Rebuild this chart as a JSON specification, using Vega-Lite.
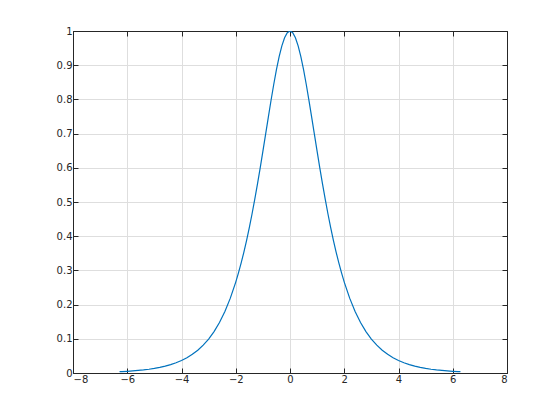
{
  "$schema": "https://vega.github.io/schema/vega-lite/v6.json",
  "width": 434,
  "height": 342,
  "autosize": {"type": "none"},
  "padding": {"left": 73, "top": 31, "right": 53, "bottom": 47},
  "background": "white",
  "config": {
    "view": {"stroke": "#262626", "strokeWidth": 1},
    "axis": {
      "labelFont": "DejaVu Sans",
      "labelFontSize": 10,
      "labelColor": "#262626",
      "domainColor": "#262626",
      "tickColor": "#262626",
      "tickSize": -5,
      "gridColor": "#dedede",
      "gridWidth": 1,
      "title": null
    }
  },
  "data": {"values": [
    {"x": -6.2832, "y": 0.00373}, {"x": -6.2, "y": 0.00406}, {"x": -6.0, "y": 0.00496}, {"x": -5.8, "y": 0.00606},
    {"x": -5.6, "y": 0.0074}, {"x": -5.4, "y": 0.00903}, {"x": -5.2, "y": 0.01103}, {"x": -5.0, "y": 0.01348},
    {"x": -4.8, "y": 0.01646}, {"x": -4.6, "y": 0.0201}, {"x": -4.4, "y": 0.02455}, {"x": -4.2, "y": 0.02999},
    {"x": -4.0, "y": 0.03662}, {"x": -3.8, "y": 0.04472}, {"x": -3.6, "y": 0.05461}, {"x": -3.4, "y": 0.06668},
    {"x": -3.2, "y": 0.08139}, {"x": -3.0, "y": 0.09933}, {"x": -2.8, "y": 0.12117}, {"x": -2.6, "y": 0.14773},
    {"x": -2.4, "y": 0.17996}, {"x": -2.2, "y": 0.21892}, {"x": -2.0, "y": 0.2658}, {"x": -1.9, "y": 0.29259},
    {"x": -1.8, "y": 0.32181}, {"x": -1.7, "y": 0.35357}, {"x": -1.6, "y": 0.38798}, {"x": -1.5, "y": 0.4251},
    {"x": -1.4, "y": 0.46492}, {"x": -1.3, "y": 0.50738}, {"x": -1.2, "y": 0.55229}, {"x": -1.1, "y": 0.59933},
    {"x": -1.0, "y": 0.64805}, {"x": -0.9, "y": 0.69779}, {"x": -0.8, "y": 0.7477}, {"x": -0.7, "y": 0.7967},
    {"x": -0.6, "y": 0.84355}, {"x": -0.5, "y": 0.88682}, {"x": -0.4, "y": 0.92501}, {"x": -0.3, "y": 0.95663},
    {"x": -0.2, "y": 0.98033}, {"x": -0.1, "y": 0.99502}, {"x": 0.0, "y": 1.0}, {"x": 0.1, "y": 0.99502},
    {"x": 0.2, "y": 0.98033}, {"x": 0.3, "y": 0.95663}, {"x": 0.4, "y": 0.92501}, {"x": 0.5, "y": 0.88682},
    {"x": 0.6, "y": 0.84355}, {"x": 0.7, "y": 0.7967}, {"x": 0.8, "y": 0.7477}, {"x": 0.9, "y": 0.69779},
    {"x": 1.0, "y": 0.64805}, {"x": 1.1, "y": 0.59933}, {"x": 1.2, "y": 0.55229}, {"x": 1.3, "y": 0.50738},
    {"x": 1.4, "y": 0.46492}, {"x": 1.5, "y": 0.4251}, {"x": 1.6, "y": 0.38798}, {"x": 1.7, "y": 0.35357},
    {"x": 1.8, "y": 0.32181}, {"x": 1.9, "y": 0.29259}, {"x": 2.0, "y": 0.2658}, {"x": 2.2, "y": 0.21892},
    {"x": 2.4, "y": 0.17996}, {"x": 2.6, "y": 0.14773}, {"x": 2.8, "y": 0.12117}, {"x": 3.0, "y": 0.09933},
    {"x": 3.2, "y": 0.08139}, {"x": 3.4, "y": 0.06668}, {"x": 3.6, "y": 0.05461}, {"x": 3.8, "y": 0.04472},
    {"x": 4.0, "y": 0.03662}, {"x": 4.2, "y": 0.02999}, {"x": 4.4, "y": 0.02455}, {"x": 4.6, "y": 0.0201},
    {"x": 4.8, "y": 0.01646}, {"x": 5.0, "y": 0.01348}, {"x": 5.2, "y": 0.01103}, {"x": 5.4, "y": 0.00903},
    {"x": 5.6, "y": 0.0074}, {"x": 5.8, "y": 0.00606}, {"x": 6.0, "y": 0.00496}, {"x": 6.2, "y": 0.00406},
    {"x": 6.2832, "y": 0.00373}
  ]},
  "layer": [
    {
      "mark": {"type": "line", "color": "#0072BD", "strokeWidth": 1.2, "clip": true},
      "encoding": {
        "x": {"field": "x", "type": "quantitative", "scale": {"domain": [-8, 8], "nice": false, "zero": false},
              "axis": {"values": [-8, -6, -4, -2, 0, 2, 4, 6, 8], "orient": "bottom", "labelPadding": 6, "format": "~g"}},
        "y": {"field": "y", "type": "quantitative", "scale": {"domain": [0, 1], "nice": false},
              "axis": {"values": [0, 0.1, 0.2, 0.3, 0.4, 0.5, 0.6, 0.7, 0.8, 0.9, 1], "orient": "left", "labelPadding": 6, "format": "~g"}}
      }
    },
    {
      "mark": {"type": "line", "opacity": 0},
      "encoding": {
        "x": {"field": "x", "type": "quantitative", "scale": {"domain": [-8, 8], "nice": false, "zero": false},
              "axis": {"values": [-8, -6, -4, -2, 0, 2, 4, 6, 8], "orient": "top", "labels": false, "grid": false}},
        "y": {"field": "y", "type": "quantitative", "scale": {"domain": [0, 1], "nice": false},
              "axis": {"values": [0, 0.1, 0.2, 0.3, 0.4, 0.5, 0.6, 0.7, 0.8, 0.9, 1], "orient": "right", "labels": false, "grid": false}}
      }
    }
  ],
  "resolve": {"axis": {"x": "independent", "y": "independent"}}
}
